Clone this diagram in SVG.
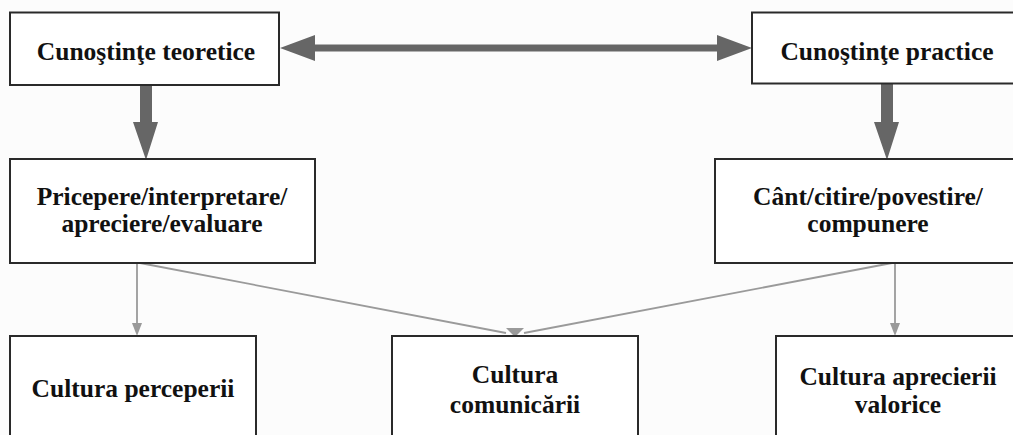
<svg xmlns="http://www.w3.org/2000/svg" width="1013" height="435" viewBox="0 0 1013 435">
  <style>
    .box { fill: #ffffff; stroke: #2a2a2a; stroke-width: 2; }
    .label { font-weight: bold; font-size: 25.5px; fill: #111; text-anchor: middle; }
    .thick { fill: #666666; }
    .thin { stroke: #9a9a9a; stroke-width: 1.8; fill: none; }
    .thinhead { fill: #9a9a9a; }
  </style>
  <rect width="1013" height="435" fill="#fcfcfc"/>

  <g id="connectors">
    <!-- double arrow between the two top boxes -->
    <polygon class="thick" points="280,48 315,35 315,44.5 717,44.5 717,35 752,48 717,61 717,51.5 315,51.5 315,61"/>
    <!-- thick down arrows -->
    <polygon class="thick" points="140,85 152,85 152,122 158,122 146,160 133,122 140,122"/>
    <polygon class="thick" points="881,84 893,84 893,122 899,122 887,160 874,122 881,122"/>
    <!-- thin connectors -->
    <line class="thin" x1="137" y1="263" x2="137" y2="325"/>
    <polygon class="thinhead" points="132,323 142,323 137,336"/>
    <line class="thin" x1="140" y1="263" x2="506" y2="333"/>
    <line class="thin" x1="892" y1="263" x2="524" y2="333"/>
    <polygon class="thinhead" points="506,328 524,328 515,337"/>
    <line class="thin" x1="895" y1="263" x2="895" y2="325"/>
    <polygon class="thinhead" points="890,323 900,323 895,336"/>
  </g>

  <g id="node-teoretice">
    <rect class="box" x="10" y="12.5" width="269" height="72.5"/>
    <text class="label" font-family="Liberation Serif" x="146" y="60">Cunoştinţe teoretice</text>
  </g>
  <g id="node-practice">
    <rect class="box" x="752" y="12.5" width="270" height="71"/>
    <text class="label" font-family="Liberation Serif" x="887" y="60">Cunoştinţe practice</text>
  </g>
  <g id="node-pricepere">
    <rect class="box" x="10" y="159" width="305" height="104"/>
    <text class="label" font-family="Liberation Serif" x="162" y="205">Pricepere/interpretare/</text>
    <text class="label" font-family="Liberation Serif" x="162" y="232">apreciere/evaluare</text>
  </g>
  <g id="node-cant">
    <rect class="box" x="715" y="159" width="310" height="104"/>
    <text class="label" font-family="Liberation Serif" x="868" y="205">Cânt/citire/povestire/</text>
    <text class="label" font-family="Liberation Serif" x="868" y="232">compunere</text>
  </g>
  <g id="node-perceperii">
    <rect class="box" x="10" y="336" width="246" height="110"/>
    <text class="label" font-family="Liberation Serif" x="133" y="397">Cultura perceperii</text>
  </g>
  <g id="node-comunicarii">
    <rect class="box" x="392" y="336" width="246" height="110"/>
    <text class="label" font-family="Liberation Serif" x="515" y="383">Cultura</text>
    <text class="label" font-family="Liberation Serif" x="515" y="413">comunicării</text>
  </g>
  <g id="node-aprecierii">
    <rect class="box" x="776" y="336" width="244" height="110"/>
    <text class="label" font-family="Liberation Serif" x="898" y="385">Cultura aprecierii</text>
    <text class="label" font-family="Liberation Serif" x="898" y="413">valorice</text>
  </g>
</svg>
